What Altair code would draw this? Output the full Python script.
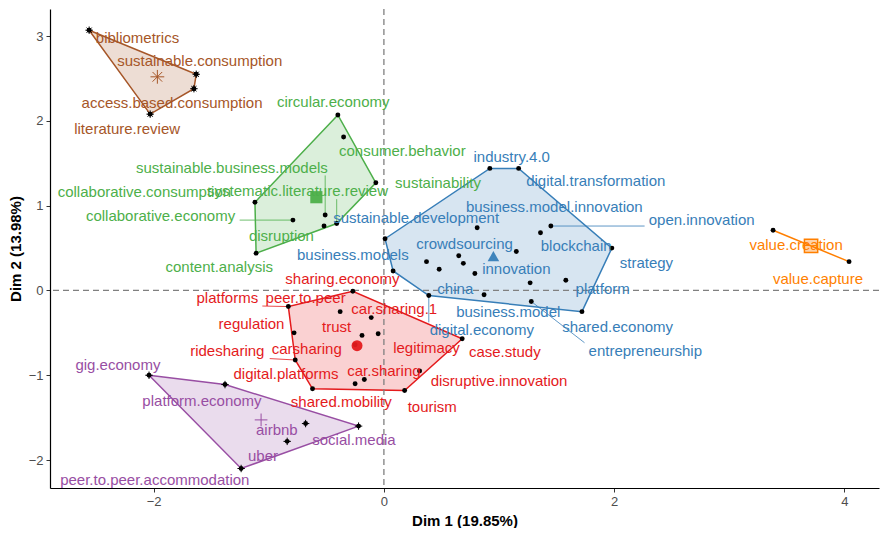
import altair as alt
import pandas as pd
import numpy as np

# ---------------- data ----------------
cluster_ids = ["1", "2", "3", "4", "5", "6"]
cluster_colors = ["#E41A1C", "#377EB8", "#4DAF4A", "#984EA3", "#FF7F00", "#A65628"]

# cluster 1 (red)
red_names = ["sharing.economy", "platforms", "peer.to.peer", "car.sharing.1", "regulation",
             "trust", "legitimacy", "carsharing", "case.study", "ridesharing",
             "disruptive.innovation", "car.sharing", "shared.mobility", "digital.platforms", "tourism"]
red_x = [-0.27, -0.83, -0.38, -0.11, -0.78, -0.19, -0.05, -0.25, 0.68, -0.77, 0.31, -0.17, -0.25, -0.62, 0.18]
red_y = [-0.01, -0.19, -0.25, -0.32, -0.50, -0.53, -0.51, -0.64, -0.57, -0.82, -0.95, -1.05, -1.10, -1.16, -1.18]
red_lx = [-0.36, -1.36, -0.68, 0.09, -1.15, -0.41, 0.37, -0.67, 1.05, -1.36, 1.00, 0.00, -0.37, -0.85, 0.42]
red_ly = [0.14, -0.09, -0.09, -0.22, -0.39, -0.43, -0.68, -0.69, -0.72, -0.71, -1.07, -0.95, -1.32, -0.99, -1.37]

# cluster 2 (blue) -- "" = point whose label is not shown
blue_names = ["industry.4.0", "digital.transformation", "open.innovation", "blockchain",
              "business.model.innovation", "sustainable.development", "strategy", "",
              "crowdsourcing", "", "", "china", "business.models", "innovation", "",
              "platform", "digital.economy", "business.model", "entrepreneurship", "shared.economy"]
blue_x = [0.92, 1.17, 1.45, 1.36, 0.81, 0.01, 1.98, 1.15, 0.65, 0.37, 0.69, 0.48, 0.08, 0.79, 1.27,
          1.58, 0.39, 0.87, 1.28, 1.72]
blue_y = [1.44, 1.44, 0.76, 0.68, 0.74, 0.61, 0.50, 0.46, 0.41, 0.34, 0.32, 0.25, 0.23, 0.20, 0.09,
          0.12, -0.06, -0.05, -0.13, -0.25]
blue_lx = [1.11, 1.84, 2.76, 1.67, 1.48, 0.28, 2.28, 1.15, 0.70, 0.37, 0.69, 0.62, -0.27, 1.15, 1.27,
           1.90, 0.85, 1.08, 2.27, 2.03]
blue_ly = [1.57, 1.29, 0.83, 0.53, 0.99, 0.86, 0.32, 0.46, 0.55, 0.34, 0.32, 0.02, 0.42, 0.25, 0.09,
           0.02, -0.47, -0.25, -0.71, -0.43]

# cluster 3 (green)
green_names = ["circular.economy", "consumer.behavior", "sustainability", "collaborative.consumption",
               "collaborative.economy", "sustainable.business.models", "disruption",
               "systematic.literature.review", "content.analysis"]
green_x = [-0.40, -0.35, -0.07, -1.12, -0.79, -0.51, -0.52, -0.41, -1.11]
green_y = [2.07, 1.81, 1.27, 1.04, 0.83, 0.89, 0.76, 0.79, 0.44]
green_lx = [-0.44, 0.16, 0.47, -2.08, -1.94, -1.32, -0.89, -0.75, -1.43]
green_ly = [2.22, 1.64, 1.27, 1.16, 0.88, 1.45, 0.64, 1.17, 0.28]

# cluster 4 (purple)
purple_names = ["gig.economy", "platform.economy", "airbnb", "uber", "social.media",
                "peer.to.peer.accommodation"]
purple_x = [-2.04, -1.38, -0.68, -0.84, -0.22, -1.24]
purple_y = [-1.00, -1.11, -1.57, -1.78, -1.60, -2.10]
purple_lx = [-2.31, -1.58, -0.93, -1.05, -0.26, -1.99]
purple_ly = [-0.88, -1.30, -1.65, -1.95, -1.76, -2.23]

# cluster 5 (orange)
orange_names = ["value.creation", "value.capture"]
orange_x = [3.38, 4.04]
orange_y = [0.71, 0.34]
orange_lx = [3.58, 3.77]
orange_ly = [0.54, 0.14]

# cluster 6 (brown)
brown_names = ["bibliometrics", "sustainable.consumption", "access.based.consumption", "literature.review"]
brown_x = [-2.56, -1.63, -1.65, -2.03]
brown_y = [3.07, 2.55, 2.38, 2.08]
brown_lx = [-2.14, -1.60, -1.84, -2.23]
brown_ly = [2.98, 2.71, 2.21, 1.90]

x_ticks = [-2, 0, 2, 4]
y_ticks = [-2, -1, 0, 1, 2, 3]
x_title = "Dim 1 (19.85%)"
y_title = "Dim 2 (13.98%)"

# ---------------- build tables ----------------
groups = [
    ("1", red_names, red_x, red_y, red_lx, red_ly),
    ("2", blue_names, blue_x, blue_y, blue_lx, blue_ly),
    ("3", green_names, green_x, green_y, green_lx, green_ly),
    ("4", purple_names, purple_x, purple_y, purple_lx, purple_ly),
    ("5", orange_names, orange_x, orange_y, orange_lx, orange_ly),
    ("6", brown_names, brown_x, brown_y, brown_lx, brown_ly),
]
rows = []
for cid, nm, xs_, ys_, lxs, lys in groups:
    for n, a, b, c, d in zip(nm, xs_, ys_, lxs, lys):
        rows.append(dict(cluster=cid, label=n, x=a, y=b, lx=c, ly=d))
pts = pd.DataFrame(rows)


def hull(points):
    p = sorted(set(points))
    if len(p) <= 2:
        return p
    def cross(o, a, b):
        return (a[0] - o[0]) * (b[1] - o[1]) - (a[1] - o[1]) * (b[0] - o[0])
    lower, upper = [], []
    for q in p:
        while len(lower) >= 2 and cross(lower[-2], lower[-1], q) <= 0:
            lower.pop()
        lower.append(q)
    for q in reversed(p):
        while len(upper) >= 2 and cross(upper[-2], upper[-1], q) <= 0:
            upper.pop()
        upper.append(q)
    return lower[:-1] + upper[:-1]


hrows = []
for cid, g in pts.groupby("cluster"):
    for i, (a, b) in enumerate(hull(list(zip(g.x, g.y)))):
        hrows.append(dict(cluster=cid, x=a, y=b, idx=i))
hull_df = pd.DataFrame(hrows)

cent = pts.groupby("cluster")[["x", "y"]].mean().reset_index()

# leader segments (label box approx. in data units)
PX_X, PX_Y = 116.0, 85.6
srows = []
for _, r in pts[pts.label != ""].iterrows():
    hw = (len(r.label) * 3.7 + 2) / PX_X
    hh = 8 / PX_Y
    cx = min(max(r.x, r.lx - hw), r.lx + hw)
    cy = min(max(r.y, r.ly - hh), r.ly + hh)
    gap = np.hypot((cx - r.x) * PX_X, (cy - r.y) * PX_Y)
    if gap > 18:
        srows.append(dict(cluster=r.cluster, x=r.x, y=r.y, x2=cx, y2=cy))
seg_df = pd.DataFrame(srows)

# ---------------- chart ----------------
FONT = "Liberation Sans"
xs = alt.Scale(domain=[-2.9, 4.3], nice=False, zero=False)
ys = alt.Scale(domain=[-2.33, 3.32], nice=False, zero=False)
cs = alt.Scale(domain=cluster_ids, range=cluster_colors)

ASTER = "M-1,0L1,0M0,-1L0,1M-0.7,-0.7L0.7,0.7M-0.7,0.7L0.7,-0.7"
CROSS = "M-1,0L1,0M0,-1L0,1"
shp = alt.Scale(domain=cluster_ids, range=["circle", "triangle-up", "square", CROSS, "square", ASTER])
szs = alt.Scale(domain=cluster_ids, range=[120, 190, 140, 260, 90, 260])

xax = alt.Axis(values=x_ticks, title=x_title, grid=False)
yax = alt.Axis(values=y_ticks, title=y_title, grid=False)


def X(f):
    return alt.X(f, scale=xs, axis=xax)


def Y(f):
    return alt.Y(f, scale=ys, axis=yax)


COL = alt.Color("cluster:N", scale=cs, legend=None)

polys = alt.Chart(hull_df).mark_line(
    interpolate="linear-closed", fillOpacity=0.2, strokeWidth=1.5
).encode(
    x=X("x:Q"), y=Y("y:Q"),
    color=COL,
    fill=alt.Fill("cluster:N", scale=cs, legend=None),
    order=alt.Order("idx:Q"),
    detail="cluster:N",
)

zero_df = pd.DataFrame({"x": [0], "y": [0]})
vline = alt.Chart(zero_df).mark_rule(strokeDash=[6, 4], color="#808080", strokeWidth=1.3).encode(x=X("x:Q"))
hline = alt.Chart(zero_df).mark_rule(strokeDash=[6, 4], color="#808080", strokeWidth=1.3).encode(y=Y("y:Q"))

segs = alt.Chart(seg_df).mark_rule(strokeWidth=0.8).encode(
    x=X("x:Q"), y=Y("y:Q"), x2="x2:Q", y2="y2:Q", color=COL,
)

dots = alt.Chart(pts).mark_point(shape="circle", filled=True, size=24, color="black", opacity=1).encode(
    x=X("x:Q"), y=Y("y:Q"),
)
spikes = alt.Chart(pts).transform_filter(
    alt.FieldOneOfPredicate(field="cluster", oneOf=["4", "6"])
).mark_point(filled=False, size=55, color="black", strokeWidth=1, opacity=1).encode(
    x=X("x:Q"), y=Y("y:Q"),
    shape=alt.Shape("cluster:N", scale=shp, legend=None),
)

cent_fill = alt.Chart(cent).transform_filter(
    alt.FieldOneOfPredicate(field="cluster", oneOf=["1", "2", "3"])
).mark_point(filled=True, opacity=0.95).encode(
    x=X("x:Q"), y=Y("y:Q"),
    color=COL,
    shape=alt.Shape("cluster:N", scale=shp, legend=None),
    size=alt.Size("cluster:N", scale=szs, legend=None),
)
cent_open = alt.Chart(cent).transform_filter(
    alt.FieldOneOfPredicate(field="cluster", oneOf=["5"])
).mark_point(filled=True, fillOpacity=0.35, strokeOpacity=1, strokeWidth=1.5).encode(
    x=X("x:Q"), y=Y("y:Q"),
    fill=alt.Fill("cluster:N", scale=cs, legend=None),
    stroke=alt.Stroke("cluster:N", scale=cs, legend=None),
    shape=alt.Shape("cluster:N", scale=shp, legend=None),
    size=alt.Size("cluster:N", scale=szs, legend=None),
)
cent_line = alt.Chart(cent).transform_filter(
    alt.FieldOneOfPredicate(field="cluster", oneOf=["4", "6"])
).mark_point(filled=False, strokeWidth=1, opacity=1).encode(
    x=X("x:Q"), y=Y("y:Q"),
    color=COL,
    shape=alt.Shape("cluster:N", scale=shp, legend=None),
    size=alt.Size("cluster:N", scale=szs, legend=None),
)

labels = alt.Chart(pts).transform_filter("datum.label != ''").mark_text(
    font=FONT, fontSize=15, align="center", baseline="middle"
).encode(
    x=X("lx:Q"), y=Y("ly:Q"),
    text="label:N",
    color=COL,
)

chart = alt.layer(polys, vline, hline, segs, dots, spikes, cent_fill, cent_open, cent_line, labels).properties(
    width=872, height=520,
    autosize=alt.AutoSizeParams(type="fit", contains="padding"),
    padding={"left": 0, "top": 0, "right": 0, "bottom": 0},
).configure_view(stroke=None).configure_axis(
    domainColor="black", domainWidth=1.2, tickColor="#333333", tickSize=4,
    labelColor="#4D4D4D", labelFontSize=13, labelFont=FONT, labelPadding=3,
    titleFont=FONT, titleFontSize=15, titleFontWeight="bold", titleColor="black", titlePadding=5,
)

chart.save("out.html", embed_options={"renderer": "svg", "actions": False})
